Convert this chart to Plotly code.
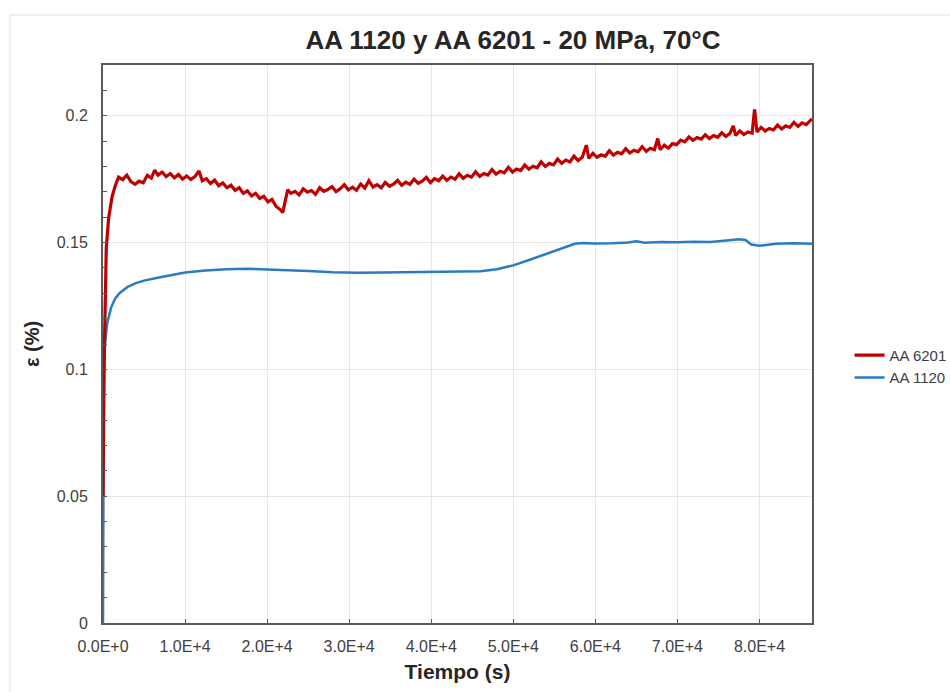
import plotly.graph_objects as go

# Creep strain vs. time, 20 MPa at 70 °C
t_6201 = [0, 150, 400, 700, 1100, 1500, 1900, 2400, 2900, 3400, 3900, 4400, 4900, 5400, 5900,
          6300, 6700, 7200, 7700, 8200, 8700, 9200, 9700, 10200, 10700, 11200, 11700, 12100,
          12600, 13100, 13600, 14100, 14600, 15100, 15600, 16100, 16600, 17100, 17600, 18100,
          18600, 19100, 19600, 20100, 20600, 21100, 21600, 21900, 22200, 22500, 22900, 23400,
          23900, 24400, 24900, 25400, 25900, 26400, 26900, 27400, 27900, 28400, 28900, 29400,
          29900, 30400, 30900, 31400, 31900, 32400, 32900, 33400, 33900, 34400, 34900, 35400,
          35900, 36400, 36900, 37400, 37900, 38400, 38900, 39400, 39900, 40400, 40900, 41400,
          41900, 42400, 42900, 43400, 43900, 44400, 44900, 45400, 45900, 46400, 46900, 47400,
          47900, 48400, 48900, 49400, 49900, 50400, 50900, 51400, 51900, 52400, 52900, 53400,
          53900, 54400, 54900, 55400, 55900, 56400, 56900, 57400, 57900, 58400, 58900, 59200,
          59700, 60200, 60700, 61200, 61700, 62200, 62700, 63200, 63700, 64200, 64700, 65200,
          65700, 66200, 66700, 67200, 67600, 67900, 68400, 68900, 69400, 69900, 70400, 70900,
          71400, 71900, 72400, 72900, 73400, 73900, 74400, 74900, 75400, 75900, 76400, 76800,
          77100, 77600, 78100, 78600, 79100, 79400, 79700, 80200, 80700, 81200, 81700, 82200,
          82700, 83200, 83700, 84200, 84700, 85200, 85700, 86400]
eps_6201 = [0.050, 0.105, 0.148, 0.160, 0.168, 0.1725, 0.1758, 0.1748, 0.1766, 0.1740, 0.1730,
            0.1742, 0.1736, 0.1765, 0.1754, 0.1786, 0.1766, 0.1778, 0.1760, 0.1772, 0.1755,
            0.1768, 0.1750, 0.1762, 0.1749, 0.1760, 0.1782, 0.1744, 0.1752, 0.1733, 0.1746,
            0.1724, 0.1735, 0.1716, 0.1726, 0.1706, 0.1716, 0.1694, 0.1704, 0.1684, 0.1694,
            0.1674, 0.1682, 0.1660, 0.1670, 0.1642, 0.1630, 0.1618, 0.1662,
            0.1708, 0.1694, 0.1702, 0.1688, 0.1712, 0.1699, 0.1705, 0.1690, 0.1716, 0.1702,
            0.1709, 0.1720, 0.1701, 0.1712, 0.1728, 0.1708, 0.1718, 0.1706, 0.1731, 0.1715,
            0.1744, 0.1719, 0.1728, 0.1716, 0.1737, 0.1722, 0.1730, 0.1745, 0.1726, 0.1738,
            0.1729, 0.1750, 0.1734, 0.1742, 0.1757, 0.1736, 0.1752, 0.1744, 0.1762, 0.1745,
            0.1758, 0.1750, 0.1771, 0.1753, 0.1765, 0.1758, 0.1779, 0.1761, 0.1772, 0.1766,
            0.1788, 0.1770, 0.1781, 0.1775, 0.1797, 0.1778, 0.1790, 0.1784, 0.1806, 0.1789,
            0.1801, 0.1795, 0.1818, 0.1800, 0.1812, 0.1806, 0.1829, 0.1812, 0.1825, 0.1818,
            0.1841, 0.1823, 0.1836, 0.1884, 0.1832, 0.1852, 0.1836, 0.1846, 0.1840, 0.1862,
            0.1845, 0.1856, 0.1850, 0.1870, 0.1853, 0.1864, 0.1858, 0.1878, 0.1860, 0.1872,
            0.1866, 0.1910, 0.1866, 0.1884, 0.1872, 0.1890, 0.1886, 0.1904, 0.1897, 0.1916,
            0.1903, 0.1914, 0.1908, 0.1925, 0.1910, 0.1922, 0.1915, 0.1933, 0.1918, 0.1930,
            0.1960, 0.1922, 0.1940, 0.1926, 0.1936, 0.1931, 0.2025, 0.1936, 0.1954, 0.1940,
            0.1950, 0.1944, 0.1963, 0.1948, 0.1960, 0.1954, 0.1974, 0.1958, 0.1972, 0.1965,
            0.1988]

t_1120 = [0, 30, 100, 250, 500, 1000, 1500, 2000, 3000, 4000, 5000, 6500, 8000, 10000, 12500,
          15000, 17500, 20000, 22500, 25000, 28000, 31000, 34000, 37000, 40000, 43000, 46000,
          48000, 50000, 52000, 54000, 56000, 57500, 58500, 60000, 62000, 64000, 65000, 66000,
          68000, 70000, 72000, 74000, 76000, 77500, 78300, 79000, 80000, 82000, 84000, 86400]
eps_1120 = [0.0, 0.05, 0.095, 0.110, 0.118, 0.1245, 0.128, 0.130, 0.1325, 0.134, 0.135, 0.136,
            0.137, 0.1382, 0.1390, 0.1395, 0.1397, 0.1395, 0.1392, 0.1388, 0.1383, 0.1381,
            0.1382, 0.1383, 0.1383, 0.1384, 0.1387, 0.1395, 0.1410, 0.1432, 0.1455, 0.1478,
            0.1495, 0.1498, 0.1496, 0.1497, 0.1500, 0.1505, 0.1499, 0.1502, 0.1501, 0.1503,
            0.1502, 0.1508, 0.1513, 0.1510, 0.1492, 0.1487, 0.1495, 0.1497, 0.1495]

x_tickvals = [0, 10000, 20000, 30000, 40000, 50000, 60000, 70000, 80000]
x_ticktext = ["0.0E+0", "1.0E+4", "2.0E+4", "3.0E+4", "4.0E+4",
              "5.0E+4", "6.0E+4", "7.0E+4", "8.0E+4"]
y_tickvals = [0, 0.05, 0.1, 0.15, 0.2]
y_ticktext = ["0", "0.05", "0.1", "0.15", "0.2"]

RED = "#c00000"
BLUE = "#2a7cc0"
AXIS = "#5a5a5a"
LABEL = "#404040"
FONT = "Liberation Sans, Arial, sans-serif"

fig = go.Figure()
fig.add_trace(go.Scatter(x=t_1120, y=eps_1120, mode="lines", name="AA 1120",
                         line=dict(color=BLUE, width=2.5), legendrank=2))
fig.add_trace(go.Scatter(x=t_6201, y=eps_6201, mode="lines", name="AA 6201",
                         line=dict(color=RED, width=3.2), legendrank=1))

fig.update_layout(
    width=950, height=692,
    margin=dict(l=103, r=138, t=65, b=69, autoexpand=False),
    paper_bgcolor="white", plot_bgcolor="white",
    font=dict(family=FONT, color=LABEL),
    title=dict(text="<b>AA 1120 y AA 6201 - 20 MPa, 70°C</b>",
               x=513 / 950, xref="container", xanchor="center",
               y=1 - 40 / 692, yref="container", yanchor="middle",
               font=dict(size=26, color="#262626", family=FONT)),
    legend=dict(x=1.053, y=0.46, xanchor="left", yanchor="middle",
                font=dict(size=15, color=LABEL), bgcolor="rgba(0,0,0,0)",
                itemwidth=30, tracegroupgap=0),
    shapes=[dict(type="rect", xref="paper", yref="paper",
                 x0=(10 - 103) / 709, x1=(965 - 103) / 709,
                 y0=(623 - 705) / 558, y1=(623 - 15) / 558,
                 line=dict(color="#e2e2e2", width=1), layer="below")],
)

fig.update_xaxes(
    range=[0, 86400], tickmode="array", tickvals=x_tickvals, ticktext=x_ticktext,
    ticks="inside", ticklen=4, tickcolor=AXIS, tickwidth=1,
    showline=True, linecolor=AXIS, linewidth=2, mirror=True,
    showgrid=True, gridcolor="#e6e6e6", gridwidth=1, zeroline=False, automargin=False,
    tickfont=dict(size=16, color=LABEL), ticklabelstandoff=8,
    title=dict(text="<b>Tiempo (s)</b>", font=dict(size=21, color="#262626"), standoff=10),
)
fig.update_yaxes(
    range=[0, 0.22], tickmode="array", tickvals=y_tickvals, ticktext=y_ticktext,
    ticks="inside", ticklen=4, tickcolor=AXIS, tickwidth=1,
    minor=dict(tickmode="linear", tick0=0, dtick=0.01, ticks="inside", ticklen=4,
               tickcolor=AXIS, showgrid=False),
    showline=True, linecolor=AXIS, linewidth=2, mirror=True,
    showgrid=True, gridcolor="#e6e6e6", gridwidth=1, zeroline=False, automargin=False,
    tickfont=dict(size=16, color=LABEL), ticklabelstandoff=10,
    title=dict(text="<b>ε (%)</b>", font=dict(size=20, color="#262626"), standoff=12),
)

fig.write_html("out.html")
